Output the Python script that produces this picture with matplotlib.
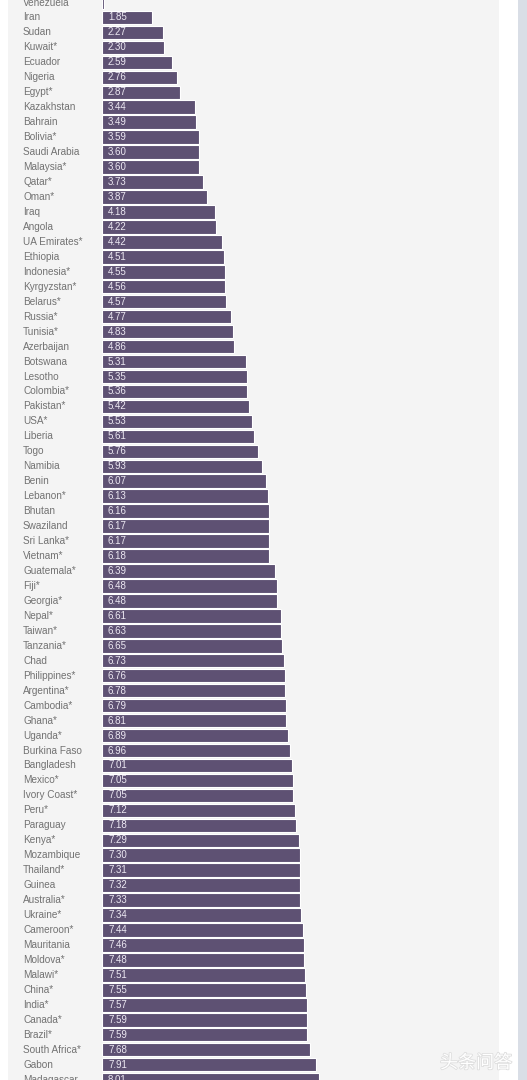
import matplotlib.pyplot as plt
import matplotlib.patheffects as pe
from matplotlib.patches import Rectangle

# country names and values, top to bottom
countries = [
    "Venezuela", "Iran", "Sudan", "Kuwait*", "Ecuador", "Nigeria", "Egypt*",
    "Kazakhstan", "Bahrain", "Bolivia*", "Saudi Arabia", "Malaysia*", "Qatar*",
    "Oman*", "Iraq", "Angola", "UA Emirates*", "Ethiopia", "Indonesia*",
    "Kyrgyzstan*", "Belarus*", "Russia*", "Tunisia*", "Azerbaijan", "Botswana",
    "Lesotho", "Colombia*", "Pakistan*", "USA*", "Liberia", "Togo", "Namibia",
    "Benin", "Lebanon*", "Bhutan", "Swaziland", "Sri Lanka*", "Vietnam*",
    "Guatemala*", "Fiji*", "Georgia*", "Nepal*", "Taiwan*", "Tanzania*", "Chad",
    "Philippines*", "Argentina*", "Cambodia*", "Ghana*", "Uganda*",
    "Burkina Faso", "Bangladesh", "Mexico*", "Ivory Coast*", "Peru*", "Paraguay",
    "Kenya*", "Mozambique", "Thailand*", "Guinea", "Australia*", "Ukraine*",
    "Cameroon*", "Mauritania", "Moldova*", "Malawi*", "China*", "India*",
    "Canada*", "Brazil*", "South Africa*", "Gabon", "Madagascar",
]
values = [
    0.08, 1.85, 2.27, 2.30, 2.59, 2.76, 2.87,
    3.44, 3.49, 3.59, 3.60, 3.60, 3.73,
    3.87, 4.18, 4.22, 4.42, 4.51, 4.55,
    4.56, 4.57, 4.77, 4.83, 4.86, 5.31,
    5.35, 5.36, 5.42, 5.53, 5.61, 5.76, 5.93,
    6.07, 6.13, 6.16, 6.17, 6.17, 6.18,
    6.39, 6.48, 6.48, 6.61, 6.63, 6.65, 6.73,
    6.76, 6.78, 6.79, 6.81, 6.89,
    6.96, 7.01, 7.05, 7.05, 7.12, 7.18,
    7.29, 7.30, 7.31, 7.32, 7.33, 7.34,
    7.44, 7.46, 7.48, 7.51, 7.55, 7.57,
    7.59, 7.59, 7.68, 7.91, 8.01,
]
show_value = [v > 0.5 for v in values]

W, H = 527, 1080
fig = plt.figure(figsize=(W / 100, H / 100), dpi=100)
fig.patch.set_facecolor("white")

# page background: grey panel, white gutter, blue-grey strip at the right
fig.patches.append(Rectangle((8 / W, 0), (499 - 8) / W, 1, transform=fig.transFigure,
                             facecolor="#f4f4f4", edgecolor="none", zorder=-5))
fig.patches.append(Rectangle((518 / W, 0), (W - 518) / W, 1, transform=fig.transFigure,
                             facecolor="#d9dee6", edgecolor="none", zorder=-5))

# axes: zero at x=102px, ~27 px per unit; rows every ~14.96 px
x0, x1 = 102, 499
px_per_unit = 27.06
row = 14.96
first_center = 2.5
ax = fig.add_axes([x0 / W, 0, (x1 - x0) / W, 1])
ax.set_zorder(2)
ax.set_facecolor("none")
ax.set_xlim(0, (x1 - x0) / px_per_unit)
ax.set_ylim((H - first_center) / row, -first_center / row)
ax.axis("off")

ypos = list(range(len(countries)))
ax.barh(ypos, values, height=0.9, color="#5e5173", edgecolor="white", linewidth=0.8)

label_font = ["Liberation Sans", "DejaVu Sans"]
for y, name, v, show in zip(ypos, countries, values, show_value):
    ax.text(-79 / px_per_unit, y, name, ha="left", va="center", fontsize=7.2,
            color="#727272", family=label_font, clip_on=False)
    if show:
        ax.text(6 / px_per_unit, y, f"{v:.2f}", ha="left", va="center", fontsize=7,
                color="#ece8f2", family=label_font)

# faint watermark
fig.text(512 / W, 1 - 1063 / H, "头条问答", ha="right", va="center", fontsize=13,
         color="white", family=["Noto Sans CJK SC", "DejaVu Sans"], zorder=3,
         path_effects=[pe.withStroke(linewidth=1.2, foreground="#dedede")])

fig.savefig("out.png", dpi=100, facecolor=fig.get_facecolor())
